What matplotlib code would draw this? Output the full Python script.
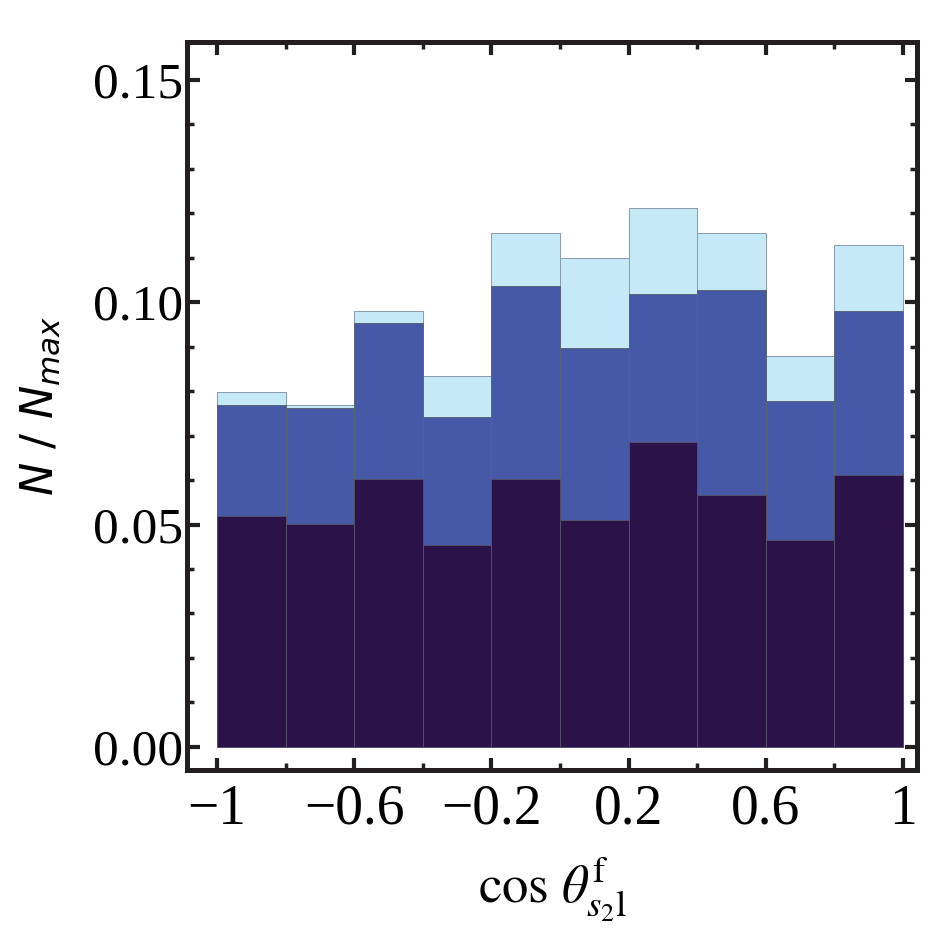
import numpy as np
import matplotlib
matplotlib.use("Agg")
import matplotlib.pyplot as plt
from matplotlib.ticker import MultipleLocator

# bin edges and the three overlaid histograms
edges = [-1.0, -0.8, -0.6, -0.4, -0.2, 0.0, 0.2, 0.4, 0.6, 0.8, 1.0]
light = [0.0798, 0.0769, 0.0980, 0.0834, 0.1156, 0.1100, 0.1212, 0.1156, 0.0879, 0.1129]
medium = [0.0769, 0.0762, 0.0953, 0.0742, 0.1037, 0.0897, 0.1019, 0.1028, 0.0778, 0.0980]
dark = [0.0519, 0.0501, 0.0603, 0.0454, 0.0603, 0.0510, 0.0686, 0.0567, 0.0465, 0.0612]

xticks = [-1, -0.6, -0.2, 0.2, 0.6, 1]
xticklabels = ["\u22121", "\u22120.6", "\u22120.2", "0.2", "0.6", "1"]
yticks = [0.0, 0.05, 0.10, 0.15]
yticklabels = ["0.00", "0.05", "0.10", "0.15"]

plt.rcParams['mathtext.fontset'] = 'stix'

fig = plt.figure(figsize=(9.38, 9.38), dpi=100)
ax = fig.add_axes([187/938, 1 - 770/938, 730/938, 728/938])

left = np.array(edges[:-1])
w = np.diff(edges)
ax.bar(left, light, width=w, align='edge', color='#c6e9f8', edgecolor='#8a9aa8', linewidth=0.7)
ax.bar(left, medium, width=w, align='edge', color='#4659a7', edgecolor='#5a6478', linewidth=0.7)
ax.bar(left, dark, width=w, align='edge', color='#2b1349', edgecolor='#55506a', linewidth=0.7)

ax.set_xlim(-1.0875, 1.041)
ax.set_ylim(-0.0052, 0.1585)

ax.set_xticks(xticks)
ax.set_xticklabels(xticklabels, family='Liberation Serif', fontsize=40)
ax.set_yticks(yticks)
ax.set_yticklabels(yticklabels, family='Liberation Serif', fontsize=37)
ax.xaxis.set_minor_locator(MultipleLocator(0.2))
ax.yaxis.set_minor_locator(MultipleLocator(0.01))
ax.tick_params(which='both', direction='in', top=True, right=True, color='#231f20')
ax.tick_params(which='major', length=9, width=3)
ax.tick_params(which='minor', length=5, width=2.5)
ax.tick_params(axis='x', which='major', pad=10)
ax.tick_params(axis='y', which='major', pad=3)

for s in ax.spines.values():
    s.set_linewidth(3.6)
    s.set_color('#231f20')

ax.set_ylabel(r'$N\ /\ N_{max}$', fontsize=32, labelpad=22, math_fontfamily='dejavusans')
ax.set_xlabel(r'$\mathrm{cos}\ \theta^{\mathrm{f}}_{s_2 \mathrm{l}}$', fontsize=38, labelpad=14)

fig.savefig('out.png', dpi=100)
